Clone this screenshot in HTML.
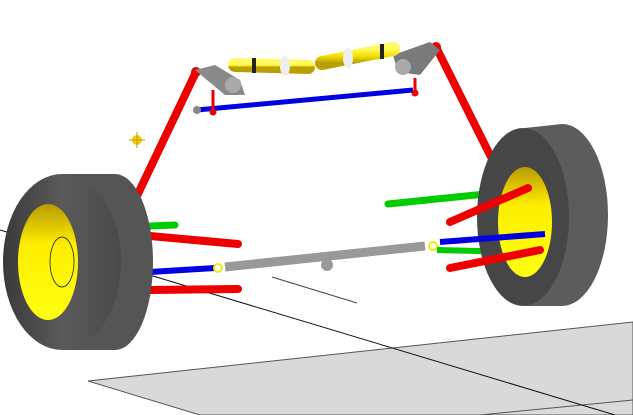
<!DOCTYPE html>
<html><head><meta charset="utf-8"><style>
html,body{margin:0;padding:0;background:#fff;width:633px;height:415px;overflow:hidden}
svg{display:block}
</style></head><body>
<svg width="633" height="415" viewBox="0 0 633 415">
<defs>
<linearGradient id="tire" x1="0" x2="1"><stop offset="0" stop-color="#3a3a3a"/><stop offset="0.5" stop-color="#5a5a5a"/><stop offset="1" stop-color="#4a4a4a"/></linearGradient>
<linearGradient id="rim" x1="0" y1="0" x2="0" y2="1"><stop offset="0" stop-color="#b89a00"/><stop offset="0.35" stop-color="#ffee00"/><stop offset="1" stop-color="#ffff10"/></linearGradient>
<linearGradient id="yel" x1="0" y1="0" x2="0" y2="1"><stop offset="0" stop-color="#fffa60"/><stop offset="0.5" stop-color="#f5e000"/><stop offset="1" stop-color="#b8a000"/></linearGradient>
</defs>
<g>
<polygon points="88,381 633,322 633,415 200,415" fill="#d9d9d9" stroke="#555" stroke-width="1"/>
<line x1="480" y1="415" x2="633" y2="400" stroke="#555" stroke-width="1"/>
</g>
<line x1="0" y1="230" x2="615" y2="415" stroke="#111" stroke-width="1"/>
<line x1="272" y1="277" x2="357" y2="303" stroke="#444" stroke-width="1"/>
<g><line x1="196" y1="72" x2="135" y2="200" stroke="#e00" stroke-width="8" stroke-linecap="round"/><circle cx="196" cy="72" r="5" fill="#e00"/></g>
<g><line x1="436" y1="47" x2="505" y2="185" stroke="#e00" stroke-width="8" stroke-linecap="round"/><circle cx="436" cy="47" r="5" fill="#e00"/></g>
<g>
<line x1="197" y1="110" x2="413" y2="90" stroke="#0000e0" stroke-width="5"/>
<circle cx="197" cy="110" r="4" fill="#888"/>
<line x1="213" y1="90" x2="213" y2="112" stroke="#e00" stroke-width="3"/><circle cx="213" cy="112" r="3.5" fill="#e00"/>
<line x1="415" y1="78" x2="415" y2="93" stroke="#e00" stroke-width="3"/><circle cx="415" cy="93" r="3.5" fill="#e00"/>
</g>
<g><polygon points="195,70 215,65 240,80 245,95 225,95" fill="#8a8a8a"/><circle cx="233" cy="85" r="8" fill="#aaa"/></g>
<g><polygon points="393,55 430,42 440,50 420,75 398,72" fill="#7a7a7a"/><circle cx="403" cy="67" r="8" fill="#aaa"/></g>
<g>
<line x1="235" y1="65" x2="308" y2="67" stroke="url(#yel)" stroke-width="14" stroke-linecap="round"/>
<rect x="252" y="58" width="4" height="15" fill="#222"/><ellipse cx="285" cy="66" rx="5" ry="10" fill="#eee"/>
</g>
<g>
<line x1="322" y1="63" x2="393" y2="49" stroke="url(#yel)" stroke-width="14" stroke-linecap="round"/>
<rect x="380" y="44" width="4" height="15" fill="#222"/><ellipse cx="348" cy="58" rx="5" ry="10" fill="#eee"/>
</g>
<g><circle cx="137" cy="140" r="5" fill="#f0d000"/><line x1="129" y1="140" x2="145" y2="140" stroke="#b90" /><line x1="137" y1="132" x2="137" y2="148" stroke="#b90"/></g>
<g>
<line x1="150" y1="226" x2="175" y2="225" stroke="#0c0" stroke-width="7" stroke-linecap="round"/>
<line x1="150" y1="236" x2="238" y2="244" stroke="#e00" stroke-width="8" stroke-linecap="round"/>
<line x1="150" y1="272" x2="215" y2="268" stroke="#0000e0" stroke-width="6"/>
<line x1="150" y1="290" x2="238" y2="289" stroke="#e00" stroke-width="8" stroke-linecap="round"/>
</g>
<g>
<line x1="225" y1="267" x2="425" y2="246" stroke="#999" stroke-width="9"/>
<circle cx="327" cy="265" r="6" fill="#999"/>
<circle cx="218" cy="268" r="4" fill="#fff" stroke="#ee0" stroke-width="2"/>
<circle cx="433" cy="246" r="4" fill="#fff" stroke="#ee0" stroke-width="2"/>
</g>
<g>
<line x1="388" y1="204" x2="505" y2="192" stroke="#0c0" stroke-width="7" stroke-linecap="round"/>
<line x1="437" y1="250" x2="520" y2="252" stroke="#0c0" stroke-width="6"/>
</g>
<g>
<path d="M62,174 L115,174 A38,88 0 0 1 115,350 L62,350 Z" fill="#555"/>
<ellipse cx="62" cy="262" rx="59" ry="88" fill="url(#tire)"/>
<ellipse cx="48" cy="262" rx="30" ry="58" fill="url(#rim)"/>
<ellipse cx="62" cy="262" rx="12" ry="25" fill="none" stroke="#222" stroke-width="0.8"/>
</g>
<g>
<path d="M525,128 L562,124 A46,91 0 0 1 562,306 L525,306 Z" fill="#5c5c5c"/>
<ellipse cx="523" cy="217" rx="46" ry="89" fill="#464646"/>
<ellipse cx="525" cy="222" rx="27" ry="55" fill="url(#rim)"/>
<line x1="440" y1="242" x2="545" y2="234" stroke="#0000e0" stroke-width="6"/>
<line x1="450" y1="268" x2="540" y2="250" stroke="#e00" stroke-width="8" stroke-linecap="round"/>
<line x1="450" y1="222" x2="528" y2="188" stroke="#e00" stroke-width="8" stroke-linecap="round"/>
</g>
</svg>
</body></html>
